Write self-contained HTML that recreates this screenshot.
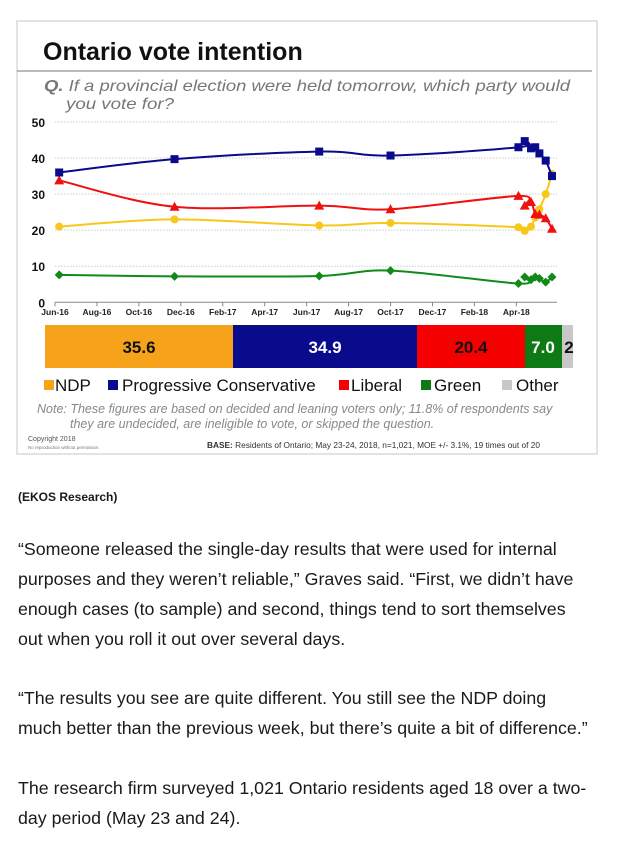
<!DOCTYPE html>
<html><head><meta charset="utf-8"><style>
body{margin:0;width:626px;height:846px;background:#fff;font-family:"Liberation Sans",Arial,sans-serif;position:relative;overflow:hidden}
.p{position:absolute;left:18px;width:575px;font-size:17.8px;line-height:30px;color:#1a1a1a}
</style></head><body>
<svg id="c" width="626" height="470" style="position:absolute;left:0;top:0" font-family="Liberation Sans, Arial, sans-serif">
<rect x="17" y="21" width="580" height="433" fill="#fff" stroke="#e3e3e3" stroke-width="2"/>
<text x="43" y="60" font-size="25" font-weight="bold" fill="#111">Ontario vote intention</text>
<line x1="17" y1="71" x2="592" y2="71" stroke="#777" stroke-width="1"/>
<text x="44" y="91" font-size="16" font-style="italic" fill="#777" textLength="526" lengthAdjust="spacingAndGlyphs"><tspan font-weight="bold">Q.</tspan> If a provincial election were held tomorrow, which party would</text>
<text x="66" y="109" font-size="16" font-style="italic" fill="#777" textLength="108" lengthAdjust="spacingAndGlyphs">you vote for?</text>
<g id="grid"></g><g id="axes"></g><g id="series"></g>
<g>
<rect x="45" y="325" width="188" height="43" fill="#f7a21b"/>
<rect x="233" y="325" width="184" height="43" fill="#0a0a8c"/>
<rect x="417" y="325" width="108" height="43" fill="#f50000"/>
<rect x="525" y="325" width="37" height="43" fill="#0d7a15"/>
<rect x="562" y="325" width="11" height="43" fill="#c8c8c8"/>
<g font-size="17" font-weight="bold" text-anchor="middle">
<text x="139" y="353" fill="#111">35.6</text>
<text x="325" y="353" fill="#fff">34.9</text>
<text x="471" y="353" fill="#111">20.4</text>
<text x="543" y="353" fill="#fff">7.0</text>
<text x="569" y="353" fill="#111">2</text>
</g></g>
<g font-size="17" fill="#111">
<rect x="44" y="380" width="10" height="10" fill="#f7a21b"/><text x="55" y="391">NDP</text>
<rect x="108" y="380" width="10" height="10" fill="#0a0a8c"/><text x="122" y="391">Progressive Conservative</text>
<rect x="339" y="380" width="10" height="10" fill="#f50000"/><text x="351" y="391">Liberal</text>
<rect x="421" y="380" width="10" height="10" fill="#0d7a15"/><text x="434" y="391">Green</text>
<rect x="502" y="380" width="10" height="10" fill="#c8c8c8"/><text x="516" y="391">Other</text>
</g>
<text x="37" y="413" font-size="12.5" font-style="italic" fill="#888">Note: These figures are based on decided and leaning voters only; 11.8% of respondents say</text>
<text x="70" y="428" font-size="12.5" font-style="italic" fill="#888">they are undecided, are ineligible to vote, or skipped the question.</text>
<text x="28" y="441" font-size="7" fill="#555">Copyright 2018</text>
<text x="28" y="449" font-size="4.5" fill="#777">No reproduction without permission</text>
<text x="207" y="448" font-size="8.3" fill="#333"><tspan font-weight="bold">BASE:</tspan> Residents of Ontario; May 23-24, 2018, n=1,021, MOE +/- 3.1%, 19 times out of 20</text>
</svg>
<div class="p" style="top:487px;font-size:12px;font-weight:bold;line-height:20px">(EKOS Research)</div>
<div class="p" style="top:534px">“Someone released the single-day results that were used for internal purposes and they weren’t reliable,” Graves said. “First, we didn’t have enough cases (to sample) and second, things tend to sort themselves out when you roll it out over several days.</div>
<div class="p" style="top:683px">“The results you see are quite different. You still see the NDP doing much better than the previous week, but there’s quite a bit of difference.”</div>
<div class="p" style="top:773px">The research firm surveyed 1,021 Ontario residents aged 18 over a two-day period (May 23 and 24).</div>
<script>
const months=[0.2,5.7,12.6,16.0,22.1,22.4,22.7,22.9,23.1,23.4,23.7];
const pcValues=[36,39.7,41.8,40.7,43,44.7,42.7,43,41.3,39.3,35];
const libValues=[33.8,26.5,26.8,25.8,29.5,26.8,27.8,24.5,24.3,23.3,20.4];
const ndpValues=[21,23,21.3,22,20.8,19.8,21,23.5,25.8,30,35.6];
const greenValues=[7.6,7.2,7.3,8.8,5.2,7,6.3,7,6.6,5.6,7];
const yTicks=[0,10,20,30,40,50];
const xTicks=["Jun-16","Aug-16","Oct-16","Dec-16","Feb-17","Apr-17","Jun-17","Aug-17","Oct-17","Dec-17","Feb-18","Apr-18"];
const NS="http://www.w3.org/2000/svg";
const X=m=>55+m*20.97, Y=v=>302.3-v*3.606;
function mk(t,a,p){const e=document.createElementNS(NS,t);for(const k in a)e.setAttribute(k,a[k]);p.appendChild(e);return e;}
const grid=document.getElementById('grid'),axes=document.getElementById('axes'),ser=document.getElementById('series');
yTicks.forEach(v=>{
 if(v>0){const l=mk('line',{x1:55,x2:557,y1:Y(v),y2:Y(v),stroke:'#ccc','stroke-dasharray':'1.5,1.5'},grid);
 
 }
 const t=mk('text',{x:45,y:Y(v)+5,'text-anchor':'end','font-size':12,'font-weight':'bold',fill:'#111'},axes);t.textContent=v;
 
 
});
mk('line',{x1:55,x2:557,y1:Y(0),y2:Y(0),stroke:'#888'},axes);
xTicks.forEach((s,i)=>{
 mk('line',{x1:X(i*2),x2:X(i*2),y1:Y(0),y2:Y(0)+4,stroke:'#888'},axes);
 const t=mk('text',{x:X(i*2),y:315,'text-anchor':'middle','font-size':8.5,'font-weight':'bold',fill:'#222'},axes);t.textContent=s;
 
 
});
function smooth(pts){
 let d='M'+pts[0][0]+','+pts[0][1];
 for(let i=0;i<pts.length-1;i++){
  const p0=pts[i-1]||pts[i],p1=pts[i],p2=pts[i+1],p3=pts[i+2]||p2;
  const c1=[p1[0]+(p2[0]-p0[0])/6,p1[1]+(p2[1]-p0[1])/6],c2=[p2[0]-(p3[0]-p1[0])/6,p2[1]-(p3[1]-p1[1])/6];
  d+=` C${c1[0]},${c1[1]} ${c2[0]},${c2[1]} ${p2[0]},${p2[1]}`;
 }
 return d;
}
function series(vals,color,shape,name){
 const g=mk('g',{},ser);
 
 
 mk('path',{d:smooth(vals.map((v,i)=>[X(months[i]),Y(v)])),fill:'none',stroke:color,'stroke-width':2},g);
 vals.forEach((v,i)=>{const x=X(months[i]),y=Y(v);let m;
  if(shape==='sq')m=mk('rect',{x:x-4,y:y-4,width:8,height:8,fill:color},g);
  else if(shape==='tri')m=mk('polygon',{points:`${x},${y-5} ${x+5},${y+4} ${x-5},${y+4}`,fill:color},g);
  else if(shape==='dia')m=mk('polygon',{points:`${x},${y-4.5} ${x+4.5},${y} ${x},${y+4.5} ${x-4.5},${y}`,fill:color},g);
  else m=mk('circle',{cx:x,cy:y,r:4,fill:color},g);
  
  
 });
}
series(greenValues,'#128a1a','dia','green-series');
series(ndpValues,'#f7c81b','circ','ndp-series');
series(libValues,'#f01010','tri','liberal-series');
series(pcValues,'#0a0a8c','sq','pc-series');
</script>
</body></html>
